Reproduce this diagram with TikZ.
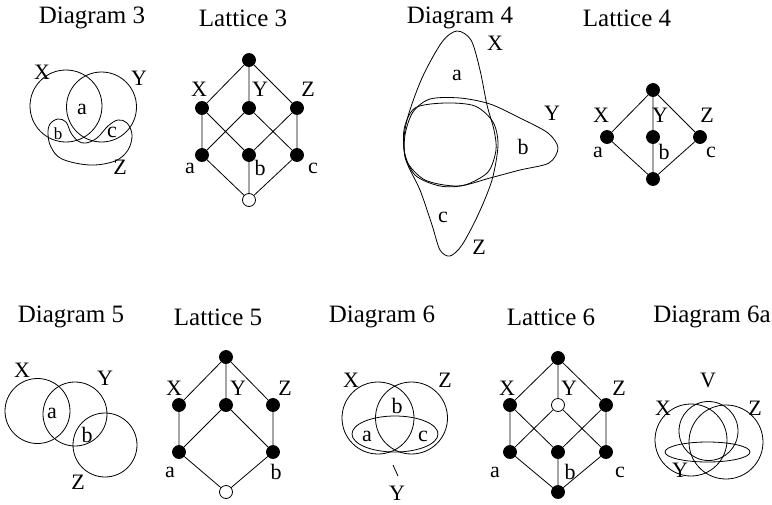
\documentclass[tikz,border=0pt]{standalone}
\usepackage{fontspec}
\setmainfont{Liberation Serif}
\usetikzlibrary{positioning}

\begin{document}
\begin{tikzpicture}[x=1pt,y=-1pt,line width=0.8pt,
    title/.style={font=\fontsize{25}{28}\selectfont,inner sep=0pt},
    lbl/.style={font=\fontsize{22}{24}\selectfont,inner sep=0pt},
    sml/.style={font=\fontsize{17}{19}\selectfont,inner sep=0pt},
    dot/.style={circle,fill=black,draw=black,minimum size=13pt,inner sep=0pt},
    hollow/.style={circle,fill=white,draw=black,minimum size=13pt,inner sep=0pt}]
  \useasboundingbox (0,0) rectangle (772,504);

  %% Diagram 3
  \node[title] (t3) at (92,18) {Diagram 3};
  \draw (66,106) circle[radius=36];
  \draw (101.5,107) circle[radius=35];
  \draw plot[smooth cycle,tension=0.6] coordinates {(86,143) (78,141) (71,133) (66,122) (58,119) (50,124) (48,134) (51,147) (62,159) (90,165) (115,161) (128,150) (132,135) (127,123) (118,120) (108,126) (97,138)};
  \node[lbl] (d3x) at (42,72) {X};
  \node[lbl] (d3y) at (139,78) {Y};
  \node[lbl] (d3a) at (82,109) {a};
  \node[sml] (d3b) at (58,134) {b};
  \node[lbl] (d3c) at (112,132) {c};
  \node[lbl] (d3z) at (120,167) {Z};

  %% Lattice 3
  \node[title] (l3) at (243,18) {Lattice 3};
  \node[dot] (l3t) at (249,60) {};
  \node[dot] (l3x) at (202,108) {};
  \node[dot] (l3y) at (249,108) {};
  \node[dot] (l3z) at (297,108) {};
  \node[dot] (l3a) at (202,155) {};
  \node[dot] (l3b) at (249,155) {};
  \node[dot] (l3c) at (297,155) {};
  \node[hollow] (l3o) at (249,200) {};
  \draw (l3t) -- (l3x) (l3t) -- (l3y) (l3t) -- (l3z);
  \draw (l3x) -- (l3a) (l3x) -- (l3b) (l3y) -- (l3a) (l3y) -- (l3c)
        (l3z) -- (l3b) (l3z) -- (l3c);
  \draw (l3a) -- (l3o) (l3b) -- (l3o) (l3c) -- (l3o);
  \node[lbl] at (199,89) {X};
  \node[lbl] at (260,89) {Y};
  \node[lbl] at (308,89) {Z};
  \node[lbl] at (190,168) {a};
  \node[lbl] at (260,168) {b};
  \node[lbl] at (313,168) {c};

  %% Diagram 4
  \node[title] (t4) at (460,18) {Diagram 4};
  \draw plot[smooth cycle] coordinates {(457,31) (471,40) (480,70) (487,105) (494,130) (496,150) (488,172) (465,185) (440,186) (415,175) (404,150) (407,120) (422,78) (442,42)};
  \draw plot[smooth cycle] coordinates {(430,99) (460,98) (490,104) (520,118) (548,133) (558,148) (549,163) (520,170) (490,178) (458,186) (425,180) (406,160) (405,135) (413,112)};
  \draw plot[smooth cycle] coordinates {(415,108) (445,103) (475,106) (493,122) (498,145) (492,180) (478,215) (462,245) (450,256) (440,250) (432,225) (420,190) (406,160) (404,130)};
  \node[lbl] (d4x) at (495,43) {X};
  \node[lbl] (d4a) at (457,75) {a};
  \node[lbl] (d4y) at (552,113) {Y};
  \node[lbl] (d4b) at (523,147) {b};
  \node[lbl] (d4c) at (443,217) {c};
  \node[lbl] (d4z) at (479,247) {Z};

  %% Lattice 4
  \node[title] (l4) at (627,18) {Lattice 4};
  \node[dot] (l4t) at (653,90) {};
  \node[dot] (l4x) at (607,137) {};
  \node[dot] (l4y) at (653,137) {};
  \node[dot] (l4z) at (700,137) {};
  \node[dot] (l4o) at (653,179) {};
  \draw (l4t) -- (l4x) (l4t) -- (l4y) (l4t) -- (l4z);
  \draw (l4x) -- (l4o) (l4y) -- (l4o) (l4z) -- (l4o);
  \node[lbl] at (601,115) {X};
  \node[lbl] at (660,115) {Y};
  \node[lbl] at (707,115) {Z};
  \node[lbl] at (598,152) {a};
  \node[lbl] at (664,152) {b};
  \node[lbl] at (711,152) {c};

  %% Diagram 5
  \node[title] (t5) at (71,317) {Diagram 5};
  \draw (37.5,411) circle[radius=32.5];
  \draw (75,414) circle[radius=32];
  \draw (105,445) circle[radius=32];
  \node[lbl] (d5x) at (22,370) {X};
  \node[lbl] (d5y) at (105,378) {Y};
  \node[lbl] (d5a) at (52,413) {a};
  \node[lbl] (d5b) at (87,435) {b};
  \node[lbl] (d5z) at (78,482) {Z};

  %% Lattice 5
  \node[title] (l5) at (218,317) {Lattice 5};
  \node[dot] (l5t) at (226,357) {};
  \node[dot] (l5x) at (179,405) {};
  \node[dot] (l5y) at (226,405) {};
  \node[dot] (l5z) at (273,405) {};
  \node[dot] (l5a) at (179,452) {};
  \node[dot] (l5b) at (273,452) {};
  \node[hollow] (l5o) at (226,492) {};
  \draw (l5t) -- (l5x) (l5t) -- (l5y) (l5t) -- (l5z);
  \draw (l5x) -- (l5a) (l5y) -- (l5a) (l5y) -- (l5b) (l5z) -- (l5b);
  \draw (l5a) -- (l5o) (l5b) -- (l5o);
  \node[lbl] at (174,388) {X};
  \node[lbl] at (238,388) {Y};
  \node[lbl] at (285,388) {Z};
  \node[lbl] at (170,472) {a};
  \node[lbl] at (276,472) {b};

  %% Diagram 6
  \node[title] (t6) at (382,317) {Diagram 6};
  \draw (378,418) circle[radius=36];
  \draw (411.5,418) circle[radius=36];
  \draw (395,434) ellipse[x radius=43,y radius=18];
  \node[lbl] (d6x) at (351,380) {X};
  \node[lbl] (d6z) at (445,380) {Z};
  \node[lbl] (d6b) at (397,406) {b};
  \node[lbl] (d6a) at (367,436) {a};
  \node[lbl] (d6c) at (423,436) {c};
  \node[lbl] (d6y) at (397,493) {Y};
  \coordinate (d6e) at (393,465);
  \coordinate (d6f) at (398,476);
  \draw (d6e) -- (d6f);

  %% Lattice 6
  \node[title] (l6) at (551,317) {Lattice 6};
  \node[dot] (l6t) at (558,358) {};
  \node[dot] (l6x) at (510,405) {};
  \node[hollow] (l6y) at (558,405) {};
  \node[dot] (l6z) at (606,405) {};
  \node[dot] (l6a) at (510,452) {};
  \node[dot] (l6b) at (558,452) {};
  \node[dot] (l6c) at (606,452) {};
  \node[dot] (l6o) at (558,492) {};
  \draw (l6t) -- (l6x) (l6t) -- (l6y) (l6t) -- (l6z);
  \draw (l6x) -- (l6a) (l6x) -- (l6b) (l6y) -- (l6a) (l6y) -- (l6c)
        (l6z) -- (l6b) (l6z) -- (l6c);
  \draw (l6a) -- (l6o) (l6b) -- (l6o) (l6c) -- (l6o);
  \node[lbl] at (507,388) {X};
  \node[lbl] at (569,388) {Y};
  \node[lbl] at (619,388) {Z};
  \node[lbl] at (495,472) {a};
  \node[lbl] at (570,472) {b};
  \node[lbl] at (620,472) {c};

  %% Diagram 6a
  \node[title] (t6a) at (712,317) {Diagram 6a};
  \draw (708.5,431) circle[radius=29.5];
  \draw (691,440) circle[radius=36];
  \draw (726,442) circle[radius=37];
  \draw (707.5,452) ellipse[x radius=42.5,y radius=10];
  \node[lbl] (d6av) at (708,380) {V};
  \node[lbl] (d6ax) at (663,408) {X};
  \node[lbl] (d6az) at (755,408) {Z};
  \node[lbl] (d6ay) at (680,470) {Y};
\end{tikzpicture}
\end{document}
